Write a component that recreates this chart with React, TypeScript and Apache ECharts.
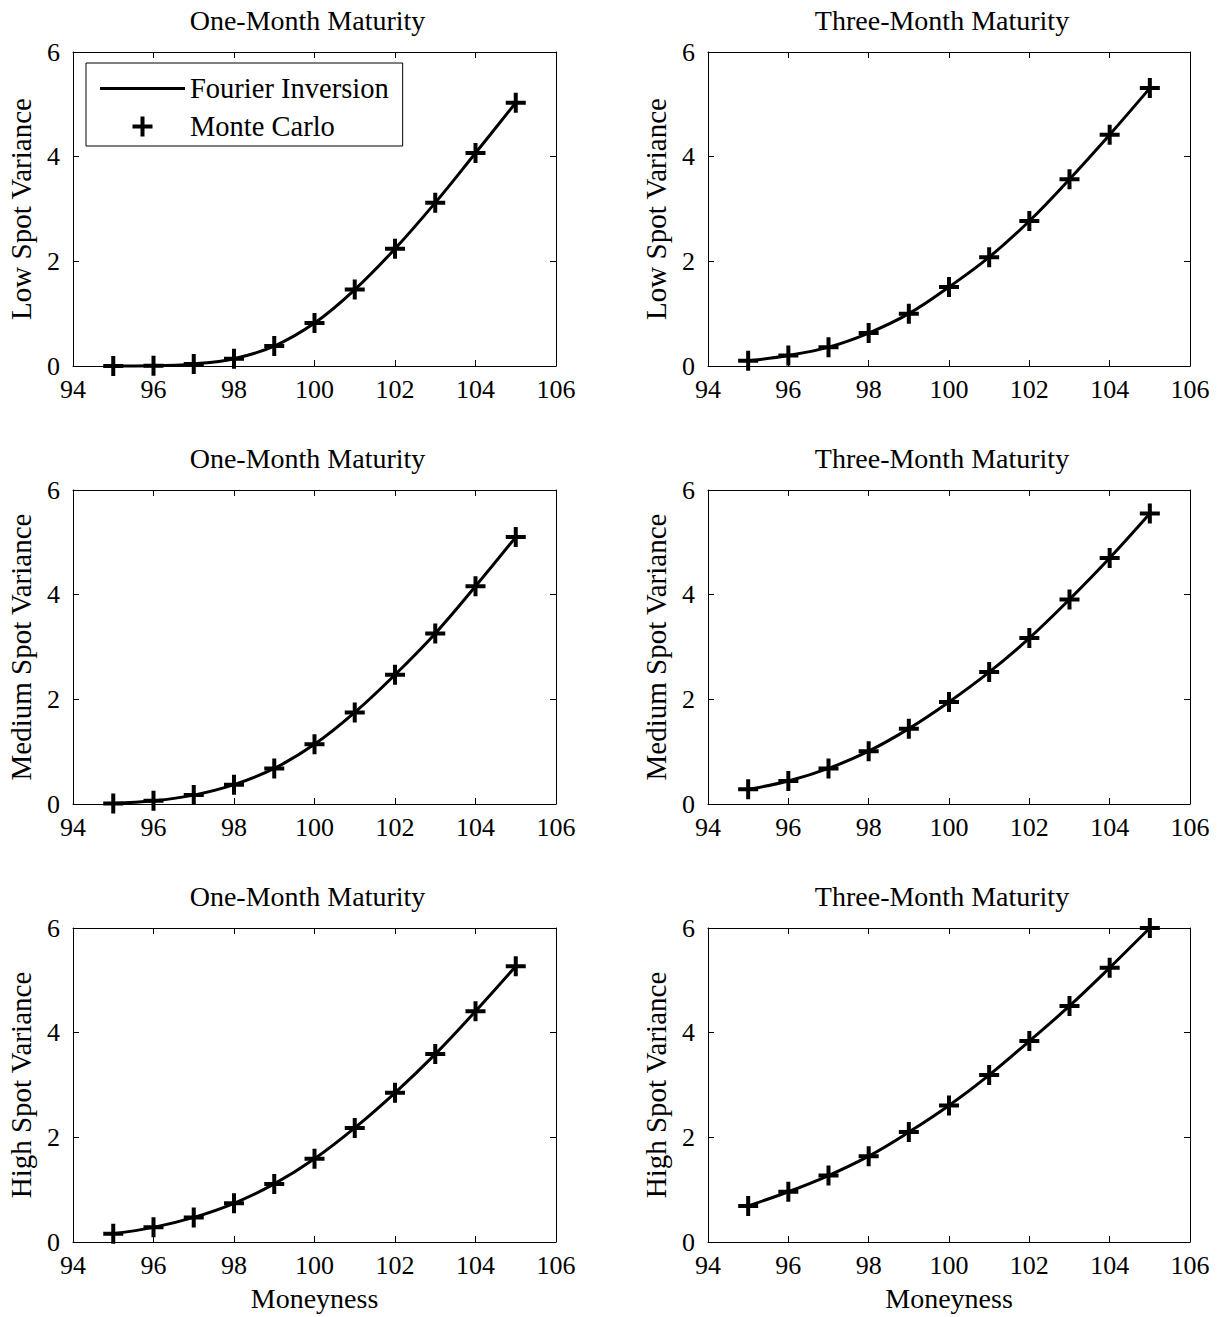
import React, { useEffect, useRef } from "react";
import * as echarts from "echarts";

const moneyness = [95, 96, 97, 98, 99, 100, 101, 102, 103, 104, 105];
const xTicks = [94, 96, 98, 100, 102, 104, 106];
const yTicks = [0, 2, 4, 6];

const lowOneMonth = [0.0, 0.005, 0.04, 0.14, 0.38, 0.82, 1.46, 2.24, 3.12, 4.07, 5.03];
const lowThreeMonth = [0.1, 0.2, 0.36, 0.63, 1.0, 1.51, 2.08, 2.77, 3.57, 4.42, 5.31];
const mediumOneMonth = [0.01, 0.06, 0.17, 0.37, 0.68, 1.14, 1.75, 2.47, 3.26, 4.16, 5.1];
const mediumThreeMonth = [0.28, 0.44, 0.68, 1.01, 1.44, 1.95, 2.52, 3.17, 3.91, 4.7, 5.55];
const highOneMonth = [0.16, 0.28, 0.47, 0.74, 1.11, 1.59, 2.18, 2.85, 3.59, 4.41, 5.27];
const highThreeMonth = [0.69, 0.96, 1.27, 1.64, 2.1, 2.61, 3.19, 3.84, 4.51, 5.24, 6.0];

const panelTitles = ["One-Month Maturity", "Three-Month Maturity"];
const rowLabels = ["Low Spot Variance", "Medium Spot Variance", "High Spot Variance"];
const xLabel = "Moneyness";
const lineName = "Fourier Inversion";
const markerName = "Monte Carlo";

const panels = [
  [lowOneMonth, lowThreeMonth],
  [mediumOneMonth, mediumThreeMonth],
  [highOneMonth, highThreeMonth],
];

const FONT = "Liberation Serif";
const PLUS = "path://M8,0 H12 V8 H20 V12 H12 V20 H8 V12 H0 V8 H8 Z";

export default function App() {
  const ref = useRef<HTMLDivElement>(null);

  useEffect(() => {
    if (!ref.current) return;
    const chart = echarts.init(ref.current, undefined, { renderer: "svg" });

    const cols = [
      { left: 73, width: 483 },
      { left: 708, width: 482 },
    ];
    const rowTops = [52, 490, 928];
    const gridH = 314;

    const grids: any[] = [];
    const xAxes: any[] = [];
    const yAxes: any[] = [];
    const series: any[] = [];
    const titles: any[] = [];

    const axisLine = { show: true, onZero: false, lineStyle: { color: "#000", width: 1 } };
    const axisTick = { show: true, inside: true, length: 6, lineStyle: { color: "#000", width: 1 } };
    const labelStyle = { color: "#000", fontSize: 26, fontFamily: FONT };
    const nameStyle = { color: "#000", fontSize: 29, fontFamily: FONT };

    let p = 0;
    for (let r = 0; r < 3; r++) {
      for (let c = 0; c < 2; c++) {
        grids.push({ left: cols[c].left, top: rowTops[r], width: cols[c].width, height: gridH, containLabel: false });
        titles.push({
          text: panelTitles[c],
          left: cols[c].left + cols[c].width / 2 - 7,
          top: rowTops[r] - 46,
          padding: 0,
          textAlign: "center",
          textStyle: { color: "#000", fontSize: 28, fontWeight: "normal", fontFamily: FONT },
        });
        const xBase = {
          gridIndex: p,
          type: "value",
          min: xTicks[0],
          max: xTicks[xTicks.length - 1],
          interval: 2,
          axisLine,
          axisTick,
          splitLine: { show: false },
        };
        xAxes.push({
          ...xBase,
          position: "bottom",
          axisLabel: { ...labelStyle, margin: 10 },
          name: r === 2 ? xLabel : "",
          nameLocation: "middle",
          nameGap: 42,
          nameTextStyle: { ...nameStyle, fontSize: 28 },
        });
        xAxes.push({ ...xBase, position: "top", axisLabel: { show: false } });
        const yBase = {
          gridIndex: p,
          type: "value",
          min: yTicks[0],
          max: yTicks[yTicks.length - 1],
          interval: 2,
          axisLine,
          axisTick,
          splitLine: { show: false },
        };
        yAxes.push({
          ...yBase,
          position: "left",
          axisLabel: { ...labelStyle, margin: 13 },
          name: rowLabels[r],
          nameLocation: "middle",
          nameGap: 38,
          nameTextStyle: nameStyle,
        });
        yAxes.push({ ...yBase, position: "right", axisLabel: { show: false } });

        const vals = panels[r][c];
        const data = moneyness.map((x, i) => [x, vals[i]]);
        series.push({
          name: lineName,
          type: "line",
          xAxisIndex: 2 * p,
          yAxisIndex: 2 * p,
          data,
          smooth: 0.4,
          symbol: "none",
          clip: false,
          lineStyle: { color: "#000", width: 3 },
          itemStyle: { color: "#000" },
          z: 2,
        });
        series.push({
          name: markerName,
          type: "scatter",
          xAxisIndex: 2 * p,
          yAxisIndex: 2 * p,
          data,
          symbol: PLUS,
          symbolSize: 20,
          clip: false,
          itemStyle: { color: "#000", opacity: 1 },
          z: 3,
        });
        p++;
      }
    }

    chart.setOption({
      animation: false,
      backgroundColor: "#fff",
      title: titles,
      grid: grids,
      xAxis: xAxes,
      yAxis: yAxes,
      series,
      legend: {
        left: 86,
        top: 63,
        orient: "vertical",
        selectedMode: false,
        backgroundColor: "#fff",
        borderColor: "#000",
        borderWidth: 1,
        borderRadius: 0,
        padding: [11, 14, 5, 14],
        itemWidth: 85,
        itemHeight: 20,
        itemGap: 9,
        textStyle: { color: "#000", fontSize: 28.5, fontFamily: FONT, lineHeight: 28 },
        data: [
          { name: lineName, icon: "path://M0,0 H85 V3 H0 Z", itemStyle: { opacity: 1 } },
          { name: markerName, icon: PLUS, itemStyle: { opacity: 1 } },
        ],
      },
    });

    return () => chart.dispose();
  }, []);

  return (
    <div
      ref={ref}
      style={{ position: "absolute", left: 0, top: 0, width: 1222, height: 1317, background: "#fff" }}
    />
  );
}
